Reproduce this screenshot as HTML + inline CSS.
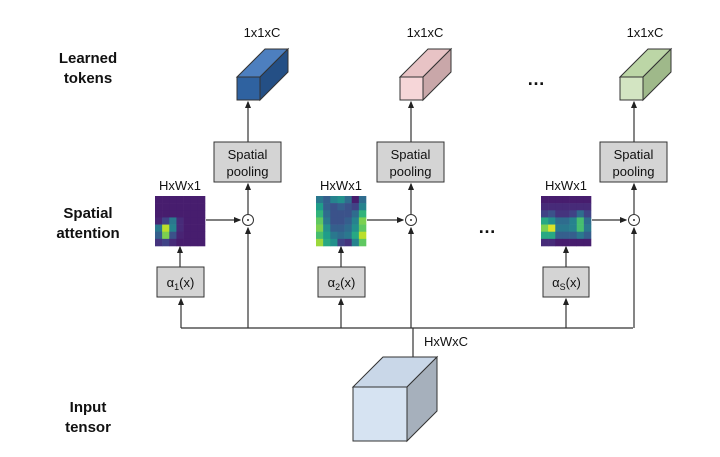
<!DOCTYPE html>
<html><head><meta charset="utf-8"><style>
body{margin:0;background:#fff}
svg{display:block}
text{font-family:"Liberation Sans",sans-serif;fill:#111}
</style></head><body>
<svg id="s" width="720" height="457" viewBox="0 0 720 457" xmlns="http://www.w3.org/2000/svg">
<defs><marker id="a" markerWidth="6" markerHeight="6" refX="5" refY="3" orient="auto"><path d="M0,0.5 L6,3 L0,5.5z" fill="#222"/></marker></defs>
<g font-weight="bold" font-size="15">
<text x="88" y="63" text-anchor="middle">Learned</text><text x="88" y="83" text-anchor="middle">tokens</text>
<text x="88" y="218" text-anchor="middle">Spatial</text><text x="88" y="238" text-anchor="middle">attention</text>
<text x="88" y="412" text-anchor="middle">Input</text><text x="88" y="432" text-anchor="middle">tensor</text>
</g>
<g stroke="#333" stroke-width="1.2" fill="none">
<path d="M181,328 H633"/>
<path d="M413,328 V357"/>
<path d="M181,328 V299" marker-end="url(#a)"/><path d="M248,328 V228" marker-end="url(#a)"/>
<path d="M341,328 V299" marker-end="url(#a)"/><path d="M411,328 V228" marker-end="url(#a)"/>
<path d="M566,328 V299" marker-end="url(#a)"/><path d="M634,328 V228" marker-end="url(#a)"/>
</g>
<g id="cols"></g>
<text x="536" y="85" font-size="18" text-anchor="middle" font-weight="bold">…</text>
<text x="487" y="233" font-size="18" text-anchor="middle" font-weight="bold">…</text>
<text x="446" y="346" font-size="13" text-anchor="middle">HxWxC</text>
<g stroke="#333" stroke-width="1">
<polygon points="353,387 383,357 437,357 407,387" fill="#c9d7e8"/>
<polygon points="407,387 437,357 437,411 407,441" fill="#a6b0bc"/>
<rect x="353" y="387" width="54" height="54" fill="#d6e3f2"/>
</g>
</svg>
<script>
const NS="http://www.w3.org/2000/svg",g=document.getElementById('cols');
function el(t,a,p){const e=document.createElementNS(NS,t);for(const k in a)e.setAttribute(k,a[k]);(p||g).appendChild(e);return e}
function vir(v){const c=[[68,1,84],[72,40,120],[62,74,137],[49,104,142],[38,130,142],[31,158,137],[53,183,121],[109,205,89],[180,222,44],[253,231,37]];v=Math.max(0,Math.min(.999,v))*9;const i=Math.floor(v),f=v-i,a=c[i],b=c[i+1];return`rgb(${a.map((x,j)=>Math.round(x+(b[j]-x)*f))})`}
const maps=[
[[.08,.08,.08,.08,.08,.08,.08],[.08,.08,.08,.08,.08,.08,.08],[.08,.08,.08,.08,.08,.08,.08],[.1,.2,.4,.12,.08,.08,.08],[.4,.9,.45,.12,.08,.08,.08],[.3,.8,.25,.1,.08,.08,.08],[.15,.2,.12,.08,.08,.08,.08]],
[[.4,.3,.45,.5,.35,.08,.35],[.55,.3,.25,.3,.25,.2,.45],[.65,.35,.25,.25,.25,.35,.65],[.75,.4,.25,.25,.3,.45,.8],[.8,.5,.3,.3,.35,.5,.75],[.7,.55,.4,.35,.4,.6,.9],[.85,.6,.5,.2,.15,.45,.75]],
[[.08,.08,.08,.08,.08,.08,.08],[.12,.12,.12,.12,.12,.12,.12],[.2,.25,.15,.15,.2,.35,.2],[.6,.5,.35,.35,.45,.7,.35],[.8,.95,.4,.4,.45,.7,.4],[.6,.6,.3,.3,.3,.4,.3],[.12,.12,.08,.08,.08,.08,.08]]];
const cols=[
{hx:155,ax:157,dot:248,px:214,cx:237,col:['#2f62a0','#4d7fbf','#244f85'],sub:'1'},
{hx:316,ax:318,dot:411,px:377,cx:400,col:['#f6d6d8','#e8c3c5','#c9a7a9'],sub:'2'},
{hx:541,ax:543,dot:634,px:600,cx:620,col:['#d3e5c2','#bcd6a6','#9fb98a'],sub:'S'}];
cols.forEach((c,k)=>{
 const cs=50/7;
 maps[k].forEach((r,i)=>r.forEach((v,j)=>el('rect',{x:c.hx+j*cs,y:196+i*cs,width:cs+.3,height:cs+.3,fill:vir(v)})));
 const t=el('text',{x:c.hx+25,y:190,'font-size':13,'text-anchor':'middle'});t.textContent='HxWx1';
 el('rect',{x:c.ax,y:267,width:c.ax===543?46:47,height:30,fill:'#d4d4d4',stroke:'#333'});
 const a=el('text',{x:c.ax+23.5,y:287,'font-size':13,'text-anchor':'middle'});a.innerHTML=`α<tspan font-size="9" dy="3">${c.sub}</tspan><tspan dy="-3">(x)</tspan>`;
 el('path',{d:`M${c.hx+25},267 V247`,stroke:'#333','stroke-width':1.2,'marker-end':'url(#a)'});
 el('path',{d:`M${c.hx+51},220 H${c.dot-8}`,stroke:'#333','stroke-width':1.2,'marker-end':'url(#a)'});
 el('circle',{cx:c.dot,cy:220,r:5.5,fill:'none',stroke:'#333'});el('circle',{cx:c.dot,cy:220,r:1,fill:'#333'});
 el('path',{d:`M${c.dot},214 V184`,stroke:'#333','stroke-width':1.2,'marker-end':'url(#a)'});
 el('rect',{x:c.px,y:142,width:67,height:40,fill:'#d4d4d4',stroke:'#333'});
 let t1=el('text',{x:c.px+33.5,y:159,'font-size':13,'text-anchor':'middle'});t1.textContent='Spatial';
 let t2=el('text',{x:c.px+33.5,y:176,'font-size':13,'text-anchor':'middle'});t2.textContent='pooling';
 el('path',{d:`M${c.dot},142 V102`,stroke:'#333','stroke-width':1.2,'marker-end':'url(#a)'});
 const x=c.cx,y=77,w=23,h=23,d=28;
 el('polygon',{points:`${x},${y} ${x+d},${y-d} ${x+w+d},${y-d} ${x+w},${y}`,fill:c.col[1],stroke:'#333'});
 el('polygon',{points:`${x+w},${y} ${x+w+d},${y-d} ${x+w+d},${y-d+h} ${x+w},${y+h}`,fill:c.col[2],stroke:'#333'});
 el('rect',{x:x,y:y,width:w,height:h,fill:c.col[0],stroke:'#333'});
 const l=el('text',{x:x+25,y:37,'font-size':13,'text-anchor':'middle'});l.textContent='1x1xC';
});
</script>
</body></html>
